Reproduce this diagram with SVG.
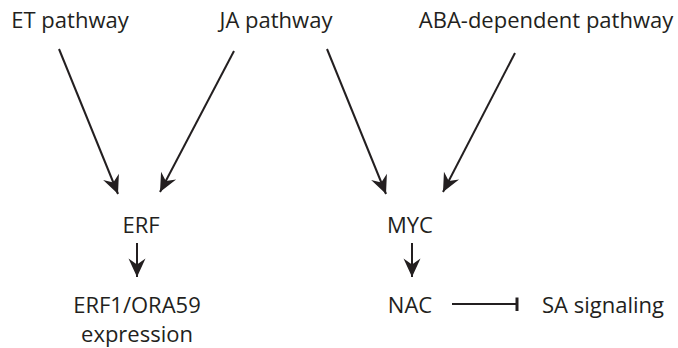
<svg xmlns="http://www.w3.org/2000/svg" width="678" height="348" viewBox="0 0 678 348">
<style>
text{font-family:"Open Sans","Noto Sans","Liberation Sans",sans-serif;font-size:22px;fill:#231f20;text-anchor:middle}
.c{stroke:#231f20;stroke-width:2;fill:none}
</style>
<defs>
<marker id="ah" markerUnits="userSpaceOnUse" markerWidth="22" markerHeight="22" viewBox="-20 -11 22 22" refX="0" refY="0" orient="auto">
<path d="M0,0 L-18.5,-8.5 L-12.5,0 L-18.5,8.5 Z" fill="#231f20"/>
</marker>
</defs>
<rect width="678" height="348" fill="#fff"/>
<g id="et"><text x="70" y="28">ET pathway</text></g>
<g id="ja"><text x="276" y="28">JA pathway</text></g>
<g id="aba"><text x="546" y="28">ABA-dependent pathway</text></g>
<g id="erf"><text x="141" y="233">ERF</text></g>
<g id="myc"><text x="410" y="233">MYC</text></g>
<g id="erf1"><text x="137" y="313">ERF1/ORA59</text><text x="137" y="342">expression</text></g>
<g id="nac"><text x="410" y="313">NAC</text></g>
<g id="sa"><text x="603" y="313">SA signaling</text></g>
<g id="connectors">
<line class="c" x1="59" y1="49" x2="118" y2="194" marker-end="url(#ah)"/>
<line class="c" x1="234" y1="51" x2="160" y2="192" marker-end="url(#ah)"/>
<line class="c" x1="327" y1="49" x2="386" y2="194" marker-end="url(#ah)"/>
<line class="c" x1="515" y1="53" x2="443" y2="192" marker-end="url(#ah)"/>
<line class="c" x1="137" y1="243" x2="137" y2="277" marker-end="url(#ah)"/>
<line class="c" x1="412" y1="243" x2="412" y2="277" marker-end="url(#ah)"/>
<line class="c" x1="452" y1="304" x2="517" y2="304"/>
<line stroke="#231f20" stroke-width="3" x1="517" y1="297.5" x2="517" y2="311"/>
</g>
</svg>
